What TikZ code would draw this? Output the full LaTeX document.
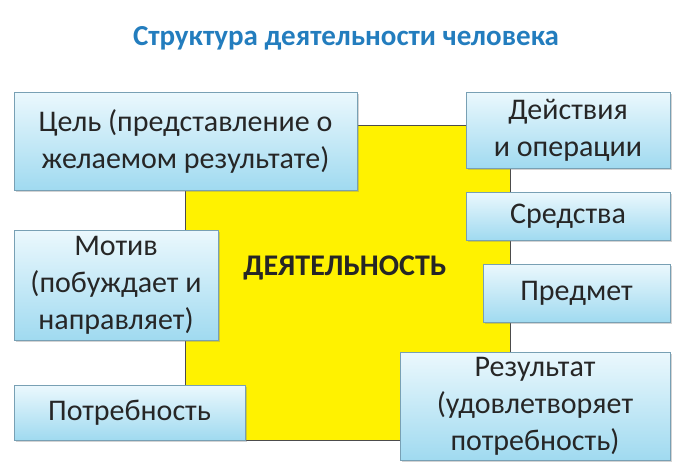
\documentclass[tikz,border=0pt]{standalone}
\usepackage{fontspec}
\setmainfont{Carlito}
\usetikzlibrary{shadows}
\definecolor{ttl}{RGB}{35,125,190}
\definecolor{boxtop}{RGB}{235,248,253}
\definecolor{boxbot}{RGB}{160,218,240}
\definecolor{boxline}{RGB}{120,160,180}
\begin{document}
\begin{tikzpicture}[x=1pt,y=-1pt,
 bx/.style={draw=boxline,line width=0.8pt,top color=boxtop,bottom color=boxbot,
   drop shadow={shadow xshift=2pt,shadow yshift=-2pt,opacity=0.35},
   align=center,font=\fontsize{30}{37}\selectfont,text=black!85,inner sep=0pt}]
\useasboundingbox (0,0) rectangle (700,471);
\node[font=\bfseries\fontsize{29}{35}\selectfont,text=ttl] (title) at (346,38) {Структура деятельности человека};
\node[draw=black!70,line width=0.8pt,fill=yellow,minimum width=325pt,minimum height=315pt,anchor=north west] (act) at (185,125) {};
\node[font=\bfseries\fontsize{30}{36}\selectfont,text=black!85] (actl) at (345,268) {ДЕЯТЕЛЬНОСТЬ};
\node[bx,minimum width=343pt,minimum height=98pt] (goal) at (185.5,141) {Цель (представление о\\желаемом результате)};
\node[bx,minimum width=204pt,minimum height=110pt] (mot) at (116,285) {Мотив\\(побуждает и\\направляет)};
\node[bx,minimum width=231pt,minimum height=55pt] (need) at (129.5,412.5) {Потребность};
\node[bx,minimum width=204pt,minimum height=76pt] (do) at (568,130) {Действия\\и операции};
\node[bx,minimum width=204pt,minimum height=48pt] (mean) at (568,216) {Средства};
\node[bx,minimum width=187pt,minimum height=58pt] (obj) at (576.5,293) {Предмет};
\node[bx,minimum width=270pt,minimum height=108pt] (res) at (535,406) {Результат\\(удовлетворяет\\потребность)};
\end{tikzpicture}
\end{document}
